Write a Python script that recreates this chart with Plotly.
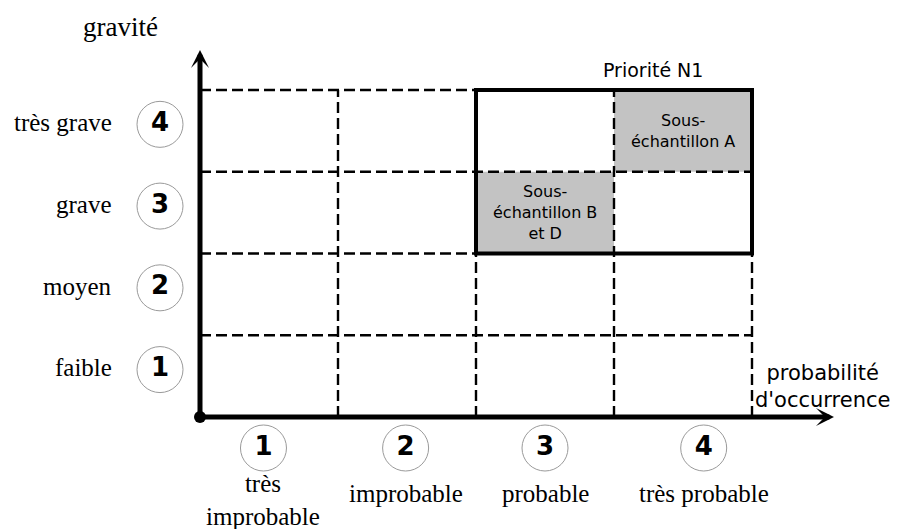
import plotly.graph_objects as go

# niveaux et libellés
niveaux = [1, 2, 3, 4]
gravite_labels = ["faible", "moyen", "grave", "très grave"]
probabilite_labels = ["très<br>improbable", "improbable", "probable", "très probable"]

# cellules grisées (probabilité, gravité, texte)
cellules_x = [4, 3]
cellules_y = [4, 3]
cellules_texte = ["Sous-<br>échantillon A", "Sous-<br>échantillon B<br>et D"]

# zone "Priorité N1" (probabilité 3-4, gravité 3-4)
prio_x = [3, 4]
prio_y = [3, 4]

# the page body has an 8px margin, so the figure is 8px smaller than the window
W, H = 892, 521
OX, OY = 192, 409          # origin of the matrix in figure pixels
PX, PY = 138.0, 81.75      # pixels per column / per row
x_range = [-OX / PX, (W - OX) / PX]
y_range = [(OY - H) / PY, OY / PY]


def dx(px):
    # page pixel (reference coords) -> data x
    return (px - 8 - OX) / PX


def dy(py):
    return (OY - (py - 8)) / PY


SERIF = "Liberation Serif"
SANS = "DejaVu Sans"

fig = go.Figure()
shapes = []
annotations = []

# grey cells
for cx, cy in zip(cellules_x, cellules_y):
    shapes.append(dict(type="rect", x0=cx - 1, x1=cx, y0=cy - 1, y1=cy,
                       fillcolor="#c3c3c3", line=dict(width=0), layer="below"))

# dashed grid
n = len(niveaux)
for k in niveaux:
    shapes.append(dict(type="line", x0=0, x1=n, y0=k, y1=k,
                       line=dict(color="black", width=2.4, dash="11px,5px")))
    shapes.append(dict(type="line", x0=k, x1=k, y0=0, y1=n,
                       line=dict(color="black", width=2.4, dash="11px,5px")))

# thick priority box
shapes.append(dict(type="rect", x0=prio_x[0] - 1, x1=prio_x[1], y0=prio_y[0] - 1, y1=prio_y[1],
                   line=dict(color="black", width=4)))

# axes with arrows
annotations.append(dict(x=dx(834), y=0, ax=0, ay=0, xref="x", yref="y",
                        axref="x", ayref="y", showarrow=True, arrowhead=3,
                        arrowwidth=5, arrowsize=0.6, arrowcolor="black", text=""))
annotations.append(dict(x=0, y=dy(50), ax=0, ay=0, xref="x", yref="y",
                        axref="x", ayref="y", showarrow=True, arrowhead=3,
                        arrowwidth=5, arrowsize=0.6, arrowcolor="black", text=""))

# origin dot
fig.add_trace(go.Scatter(x=[0], y=[0], mode="markers",
                         marker=dict(size=12, color="black"), hoverinfo="skip"))

# level circles on y axis
fig.add_trace(go.Scatter(
    x=[dx(160)] * n, y=[k - 0.5 + 0.08 for k in niveaux], mode="markers+text",
    text=["<b>%d</b>" % k for k in niveaux], textposition="middle center",
    textfont=dict(family=SANS, size=26, color="black"),
    marker=dict(size=46, color="white", line=dict(color="#9a9a9a", width=1)),
    hoverinfo="skip"))

# level circles on x axis
x_shift = [-0.04, -0.01, 0.0, 0.15]
fig.add_trace(go.Scatter(
    x=[k - 0.5 + s for k, s in zip(niveaux, x_shift)], y=[dy(448)] * n,
    mode="markers+text",
    text=["<b>%d</b>" % k for k in niveaux], textposition="middle center",
    textfont=dict(family=SANS, size=26, color="black"),
    marker=dict(size=46, color="white", line=dict(color="#9a9a9a", width=1)),
    hoverinfo="skip"))

# gravity labels
for k, lab in zip(niveaux, gravite_labels):
    annotations.append(dict(x=dx(114), y=k - 0.5 + 0.1, xref="x", yref="y",
                            text=lab, showarrow=False, xanchor="right",
                            font=dict(family=SERIF, size=25, color="black")))

# probability labels
for k, lab, s in zip(niveaux, probabilite_labels, x_shift):
    n_lines = lab.count("<br>") + 1
    annotations.append(dict(x=k - 0.5 + s, y=dy(493 + 7 * (n_lines - 1)), xref="x", yref="y",
                            text=lab, showarrow=False, yanchor="middle",
                            font=dict(family=SERIF, size=25, color="black")))

# cell texts
for cx, cy, t in zip(cellules_x, cellules_y, cellules_texte):
    annotations.append(dict(x=cx - 0.5, y=cy - 0.5, xref="x", yref="y", text=t,
                            showarrow=False,
                            font=dict(family=SANS, size=16, color="black")))

# titles
annotations.append(dict(x=dx(120), y=dy(27), xref="x", yref="y",
                        text="gravité", showarrow=False,
                        font=dict(family=SERIF, size=27, color="black")))
annotations.append(dict(x=dx(823), y=dy(386), xref="x", yref="y",
                        text="probabilité<br>d'occurrence", showarrow=False,
                        font=dict(family=SANS, size=21, color="black")))
annotations.append(dict(x=dx(653), y=dy(70), xref="x", yref="y",
                        text="Priorité N1", showarrow=False,
                        font=dict(family=SANS, size=19, color="black")))

fig.update_layout(
    width=W, height=H,
    margin=dict(l=0, r=0, t=0, b=0),
    paper_bgcolor="white", plot_bgcolor="white",
    showlegend=False,
    xaxis=dict(range=x_range, visible=False, fixedrange=True),
    yaxis=dict(range=y_range, visible=False, fixedrange=True),
    shapes=shapes,
    annotations=annotations,
)

fig.write_html("out.html")
